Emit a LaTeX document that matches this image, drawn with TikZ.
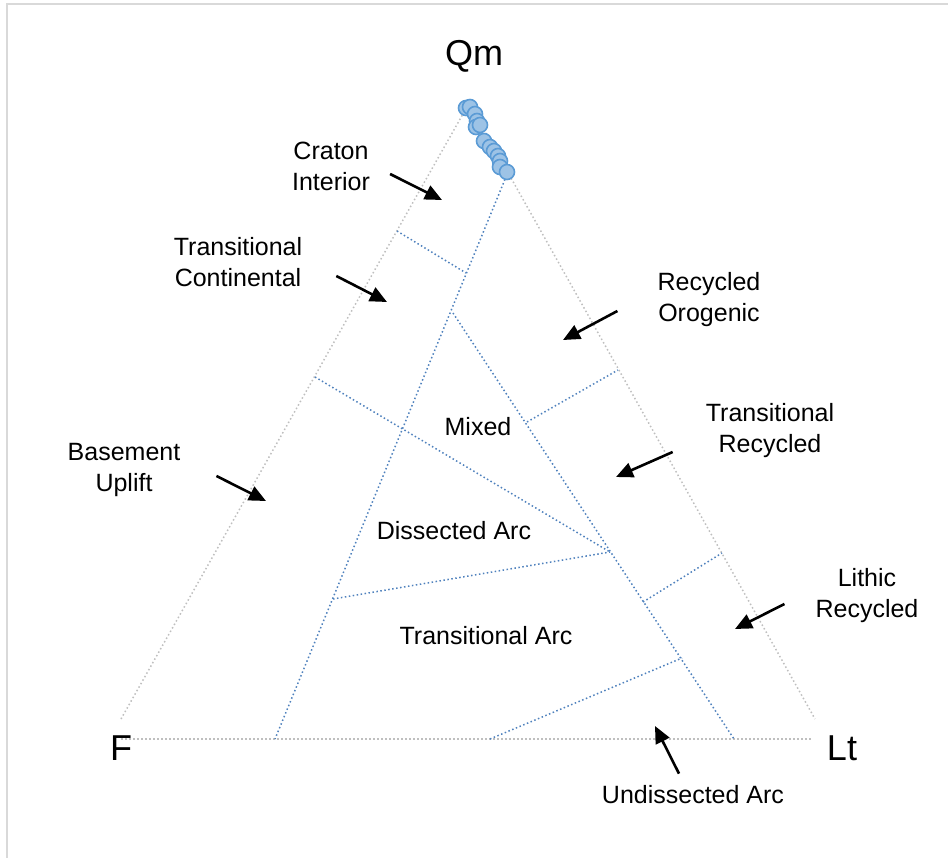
\documentclass[tikz,border=0pt]{standalone}
\usepackage{fontspec}
\setmainfont{Liberation Sans}
\usepackage{tikz}
\usepackage{xcolor}
\usetikzlibrary{arrows.meta}

\definecolor{edgegray}{HTML}{BFBFBF}
\definecolor{framegray}{HTML}{D9D9D9}
\definecolor{fieldblue}{HTML}{4F81BD}
\definecolor{ptfill}{HTML}{9DC3E6}
\definecolor{ptline}{HTML}{5B9BD5}

\tikzset{
  edge/.style={edgegray, line width=1.5pt, dash pattern=on 1.5pt off 2.5pt},
  field/.style={fieldblue, line width=1.5pt, dash pattern=on 1.5pt off 2.5pt},
  pointer/.style={-{Triangle[length=17pt,width=15pt]}, line width=2.6pt},
  lbl/.style={align=center, font=\fontsize{25}{31}\selectfont, inner sep=3pt},
  corner/.style={font=\fontsize{36}{40}\selectfont, inner sep=0pt},
  datapt/.style={fill=ptfill, draw=ptline, line width=1.6pt}
}

\begin{document}
\begin{tikzpicture}[x=1pt, y=-1pt]
    \useasboundingbox (0,0) rectangle (948,858);
    \draw[framegray, line width=1.5pt] (7,858) -- (7,4) -- (948,4);

    % Triangle edges
    \draw[edge] (121,719) -- (468,105);
    \draw[edge] (470,105) -- (815,719);
    \draw[edge] (121,739) -- (812,739);

    % Field boundaries
    \draw[field] (508,172) -- (275,739);
    \draw[field] (397,231) -- (466,273);
    \draw[field] (315,377) -- (610,552);
    \draw[field] (453,313) -- (734,739);
    \draw[field] (527,422) -- (618,370);
    \draw[field] (333,599) -- (610,552);
    \draw[field] (643,602) -- (722,553);
    \draw[field] (490,739) -- (682,658);

    % Samples
    \foreach \px/\py in {466/108, 470/107, 475/114, 477/121, 476/127, 480/125,
        484/141, 490/147, 494/151, 498/156, 500/161, 500/167, 507/172}
        \draw[datapt] (\px,\py) circle (7.5pt);

    % Corners
    \node[corner] (qm) at (474,56) {Qm};
    \node[corner] (f) at (121,748) {F};
    \node[corner] (lt) at (842,748) {Lt};

    % Fields
    \node[lbl] (ci) at (331,166) {Craton\\Interior};
    \node[lbl] (tc) at (238,262) {Transitional\\Continental};
    \node[lbl] (ro) at (709,300) {Recycled\\Orogenic};
    \node[lbl] (mx) at (478,427) {Mixed};
    \node[lbl] (tr) at (770,431) {Transitional\\Recycled};
    \node[lbl] (bu) at (124,470) {Basement\\Uplift};
    \node[lbl] (da) at (454,531) {Dissected Arc};
    \node[lbl] (lr) at (867,596) {Lithic\\Recycled};
    \node[lbl] (ta) at (486,636) {Transitional Arc};
    \node[lbl] (ua) at (693,795) {Undissected Arc};

    \coordinate (ci-tip) at (442,200);
    \coordinate (tc-tip) at (387,302);
    \coordinate (ro-tip) at (563,340);
    \coordinate (tr-tip) at (616,477);
    \coordinate (bu-tip) at (266,501);
    \coordinate (lr-tip) at (735,629);
    \coordinate (ua-tip) at (655,726);

    \draw[pointer] ([xshift=17pt, yshift=-8pt]ci.east) -- (ci-tip);
    \draw[pointer] ([xshift=31pt, yshift=-14pt]tc.east) -- (tc-tip);
    \draw[pointer] ([xshift=-37pt, yshift=-11pt]ro.west) -- (ro-tip);
    \draw[pointer] ([xshift=-30pt, yshift=-21pt]tr.west) -- (tr-tip);
    \draw[pointer] ([xshift=33pt, yshift=-6pt]bu.east) -- (bu-tip);
    \draw[pointer] ([xshift=-28pt, yshift=-8pt]lr.west) -- (lr-tip);
    \draw[pointer] ([xshift=-14pt, yshift=9pt]ua.north) -- (ua-tip);
\end{tikzpicture}
\end{document}
